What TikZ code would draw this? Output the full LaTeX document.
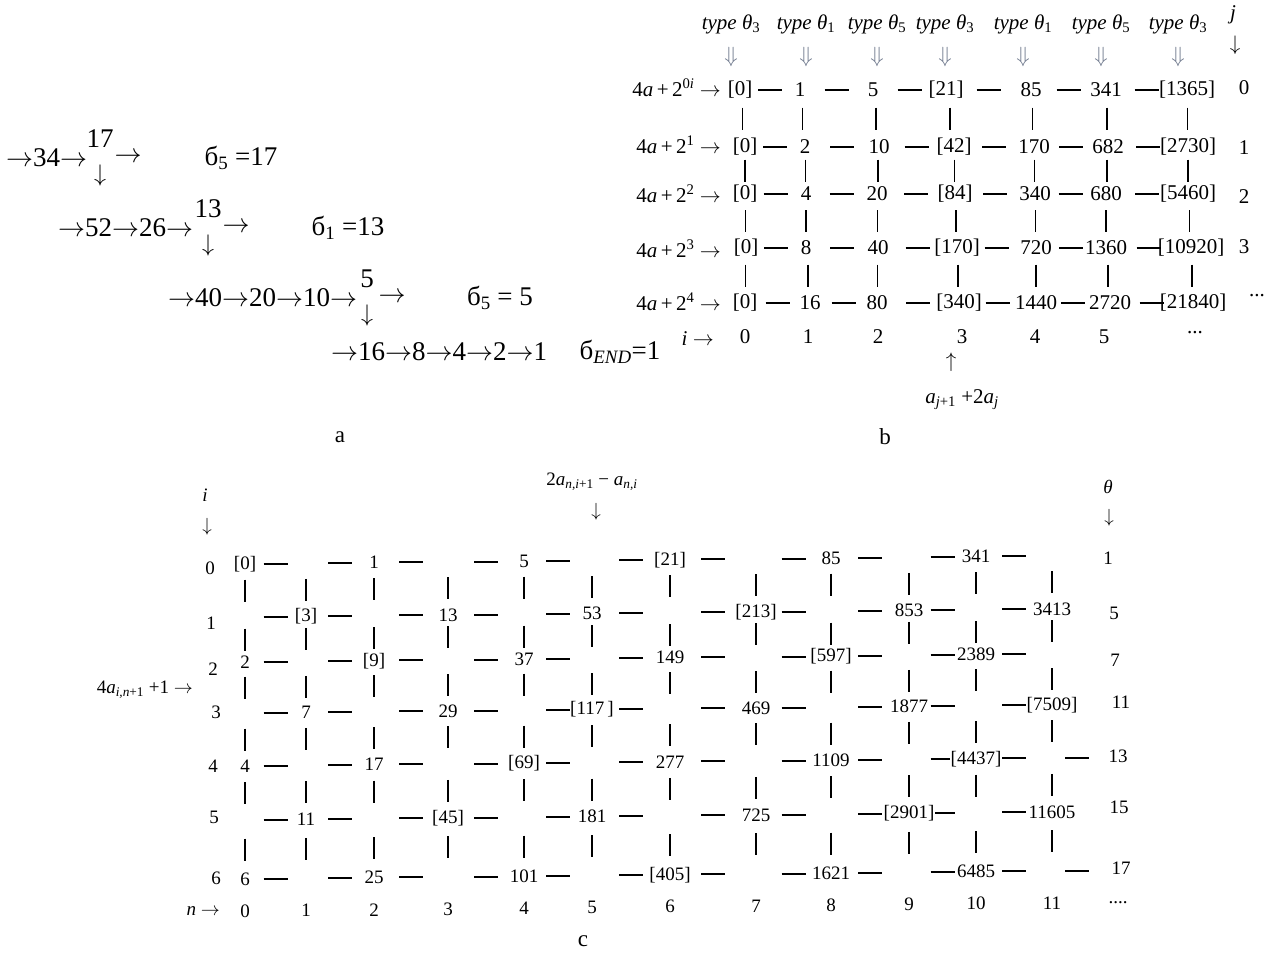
\documentclass[tikz,border=0pt]{standalone}
\usepackage{fix-cm}
\usepackage{fontspec}
\setmainfont{Liberation Serif}
\usetikzlibrary{calc}
\newcommand\fsz[1]{\fontsize{#1}{#1}\selectfont}
\newcommand\rarr{\ensuremath{\rightarrow}}
\newcommand\darr{\ensuremath{\downarrow}}
\newcommand\uarr{\ensuremath{\uparrow}}
\definecolor{dblgray}{RGB}{110,120,140}
\newcommand\brow[3]{%
  \foreach \x/\v [count=\c, remember=\c as \lc (initially 0)] in {#3} {
    \node[txb] (b-#1-\c) at (\x,#2) {\v};
    \ifnum\c>1 \draw[bline] ($(b-#1-\lc)!0.5!(b-#1-\c)$) ++(-12,0) -- ++(24,0); \fi
  }}
\newcommand\crow[2]{%
  \foreach \n/\v in {#2}
    \node[txc, fill=white, inner xsep=0.5pt] (v-#1-\n) at (c-#1-\n) {\v};}

\begin{document}
\begin{tikzpicture}[x=1pt, y=-1pt,
  txa/.style={inner sep=0pt, font={\fsz{27}}},
  dna/.style={inner sep=0pt, font={\fsz{24}}},
  txb/.style={inner sep=0pt, font={\fsz{21}}},
  hdb/.style={inner sep=0pt, font={\fsz{21}}},
  txc/.style={inner sep=0pt, font={\fsz{19}}},
  partlbl/.style={inner sep=0pt, font={\fsz{23}}},
  dbl/.style={inner sep=0pt, text=dblgray, font={\fsz{22}}},
  bline/.style={line width=1.5pt},
  cline/.style={line width=2pt}]
\useasboundingbox (0,0) rectangle (1277,953);

% a
\node[txa, anchor=west] (a1) at (6,158) {\rarr 34\rarr};
\node[txa] (a1up) at (100,139) {17};
\node[dna] (a1dn) at (100,175) {\darr};
\node[txa] (a1out) at (128,158) {\rarr};
\node[txa] (a1eq) at (241,158) {б\textsubscript{5} =17};
\node[txa, anchor=west] (a2) at (58,228) {\rarr 52\rarr 26\rarr};
\node[txa] (a2up) at (208,209) {13};
\node[dna] (a2dn) at (208,245) {\darr};
\node[txa] (a2out) at (236,228) {\rarr};
\node[txa] (a2eq) at (348,228) {б\textsubscript{1} =13};
\node[txa, anchor=west] (a3) at (168,298) {\rarr 40\rarr 20\rarr 10\rarr};
\node[txa] (a3up) at (367,279) {5};
\node[dna] (a3dn) at (367,315) {\darr};
\node[txa] (a3out) at (392,298) {\rarr};
\node[txa] (a3eq) at (500,298) {б\textsubscript{5} = 5};
\node[txa, anchor=west] (a4) at (331,352) {\rarr 16\rarr 8\rarr 4\rarr 2\rarr 1};
\node[txa] (a4eq) at (620,352) {б\textsubscript{\textit{END}}=1};
\node[partlbl] (pa) at (340,437) {a};

% b
\foreach \x/\k [count=\c] in {731/3,806/1,877/5,945/3,1023/1,1101/5,1178/3} {
  \node[hdb] (type\c) at (\x,24) {\textit{type θ}\textsubscript{\k}};
  \node[dbl] (dbl\c) at (\x,57) {\ensuremath{\Downarrow}};
}
\node[hdb] (jlab) at (1233,15) {\textit{j}};
\node[txb] (jdn) at (1235,45) {\darr};
\foreach \y/\p [count=\r from 0] in {88/0\textit{i},145/1,194/2,249/3,302/4}
  \node[hdb, anchor=east] (rl\r) at (721,\y) {4\textit{a}\,+\,2\textsuperscript{\p} \rarr};
\brow{0}{90}{740/[0],800/1,873/5,946/[21],1031/85,1106/341,1187/[1365]}
\brow{1}{147}{745/[0],805/2,879/10,954/[42],1034/170,1108/682,1188/[2730]}
\brow{2}{194}{745/[0],806/4,877/20,955/[84],1035/340,1106/680,1188/[5460]}
\brow{3}{248}{746/[0],806/8,878/40,957/[170],1036/720,1106/1360,1191/[10920]}
\brow{4}{303}{745/[0],810/16,877/80,959/[340],1036/1440,1110/2720,1193/[21840]}
\foreach \r [evaluate=\r as \s using int(\r+1)] in {0,...,3}
  \foreach \c in {1,...,7}
    \draw[bline] ($(b-\r-\c)!0.5!(b-\s-\c)$) ++(0,-11) -- ++(0,22);
\foreach \y [count=\r from 0] in {88,148,197,247}
  \node[txb] (jr\r) at (1244,\y) {\r};
\node[txb] (jdots) at (1257,296) {...};
\node[hdb, anchor=east] (ib) at (714,339) {\textit{i} \rarr};
\foreach \x [count=\c from 0] in {745,808,878,962,1035,1104}
  \node[txb] (ib\c) at (\x,337) {\c};
\node[txb] (ibdots) at (1195,333) {...};
\node[txb] (bup) at (951,362) {\uarr};
\node[hdb] (bform) at (962,400) {\textit{a}\textsubscript{\textit{j}+1} +2\textit{a}\textsubscript{\textit{j}}};
\node[partlbl] (pb) at (885,437) {b};

% c
\foreach \x [count=\col from 0] in {245,306,374,448,524,592,670,756,831,909,976,1052}
  \foreach \y [count=\row from 0] in {564,617,662,713,766,820,879}
    \coordinate (c-\row-\col) at (\x,{\y-0.01*(\x-245)});
\foreach \row in {0,...,6}
  \foreach \col [remember=\col as \prv (initially 0)] in {0,...,11} {
    \ifnum\col>0 \draw[cline] ($(c-\row-\prv)!0.5!(c-\row-\col)$) ++(-12,0) -- ++(24,0); \fi
  }
\draw[cline] ($(c-4-11)+(13,0)$) -- ++(24,0);
\draw[cline] ($(c-6-11)+(13,0)$) -- ++(24,0);
\foreach \row [remember=\row as \prv (initially 0)] in {0,...,6}
  \foreach \col in {0,...,11} {
    \ifnum\row>0 \draw[cline] ($(c-\prv-\col)!0.5!(c-\row-\col)$) ++(0,-11) -- ++(0,22); \fi
  }
\crow{0}{0/[0],2/1,4/5,6/[21],8/85,10/341}
\crow{1}{1/[3],3/13,5/53,7/[213],9/853,11/3413}
\crow{2}{0/2,2/[9],4/37,6/149,8/[597],10/2389}
\crow{3}{1/7,3/29,5/[117\,],7/469,9/1877,11/[7509]}
\crow{4}{0/4,2/17,4/[69],6/277,8/1109,10/[4437]}
\crow{5}{1/11,3/[45],5/181,7/725,9/[2901],11/11605}
\crow{6}{0/6,2/25,4/101,6/[405],8/1621,10/6485}
\foreach \x/\y [count=\i from 0] in {210/568,211/623,213/669,216/712,213/766,214/817,216/878}
  \node[txc] (il\i) at (\x,\y) {\i};
\foreach \x/\y/\t in {1108/558/1,1114/613/5,1115/660/7,1121/702/11,1118/756/13,1119/807/15,1121/868/17}
  \node[txc] (th\t) at (\x,\y) {\t};
\node[txc] (thdots) at (1118,903) {....};
\node[txc] (ilab) at (205,495) {\textit{i}};
\node[txc] (idn) at (207,527) {\darr};
\node[txc] (cform) at (592,482) {2\textit{a}\textsubscript{\textit{n,i}+1} − \textit{a}\textsubscript{\textit{n,i}}};
\node[txc] (cdn) at (596,512) {\darr};
\node[txc] (thlab) at (1108,487) {\textit{θ}};
\node[txc] (thdn) at (1109,518) {\darr};
\node[txc, anchor=east] (leftlab) at (193,690) {4\textit{a}\textsubscript{\textit{i,n}+1} +1 \rarr};
\node[txc, anchor=east] (nlab) at (220,911) {\textit{n} \rarr};
\foreach \n in {0,...,11}
  \node[txc] (nl\n) at ($(c-6-\n)+(0,32)$) {\n};
\node[partlbl] (pc) at (583,941) {c};
\end{tikzpicture}
\end{document}
